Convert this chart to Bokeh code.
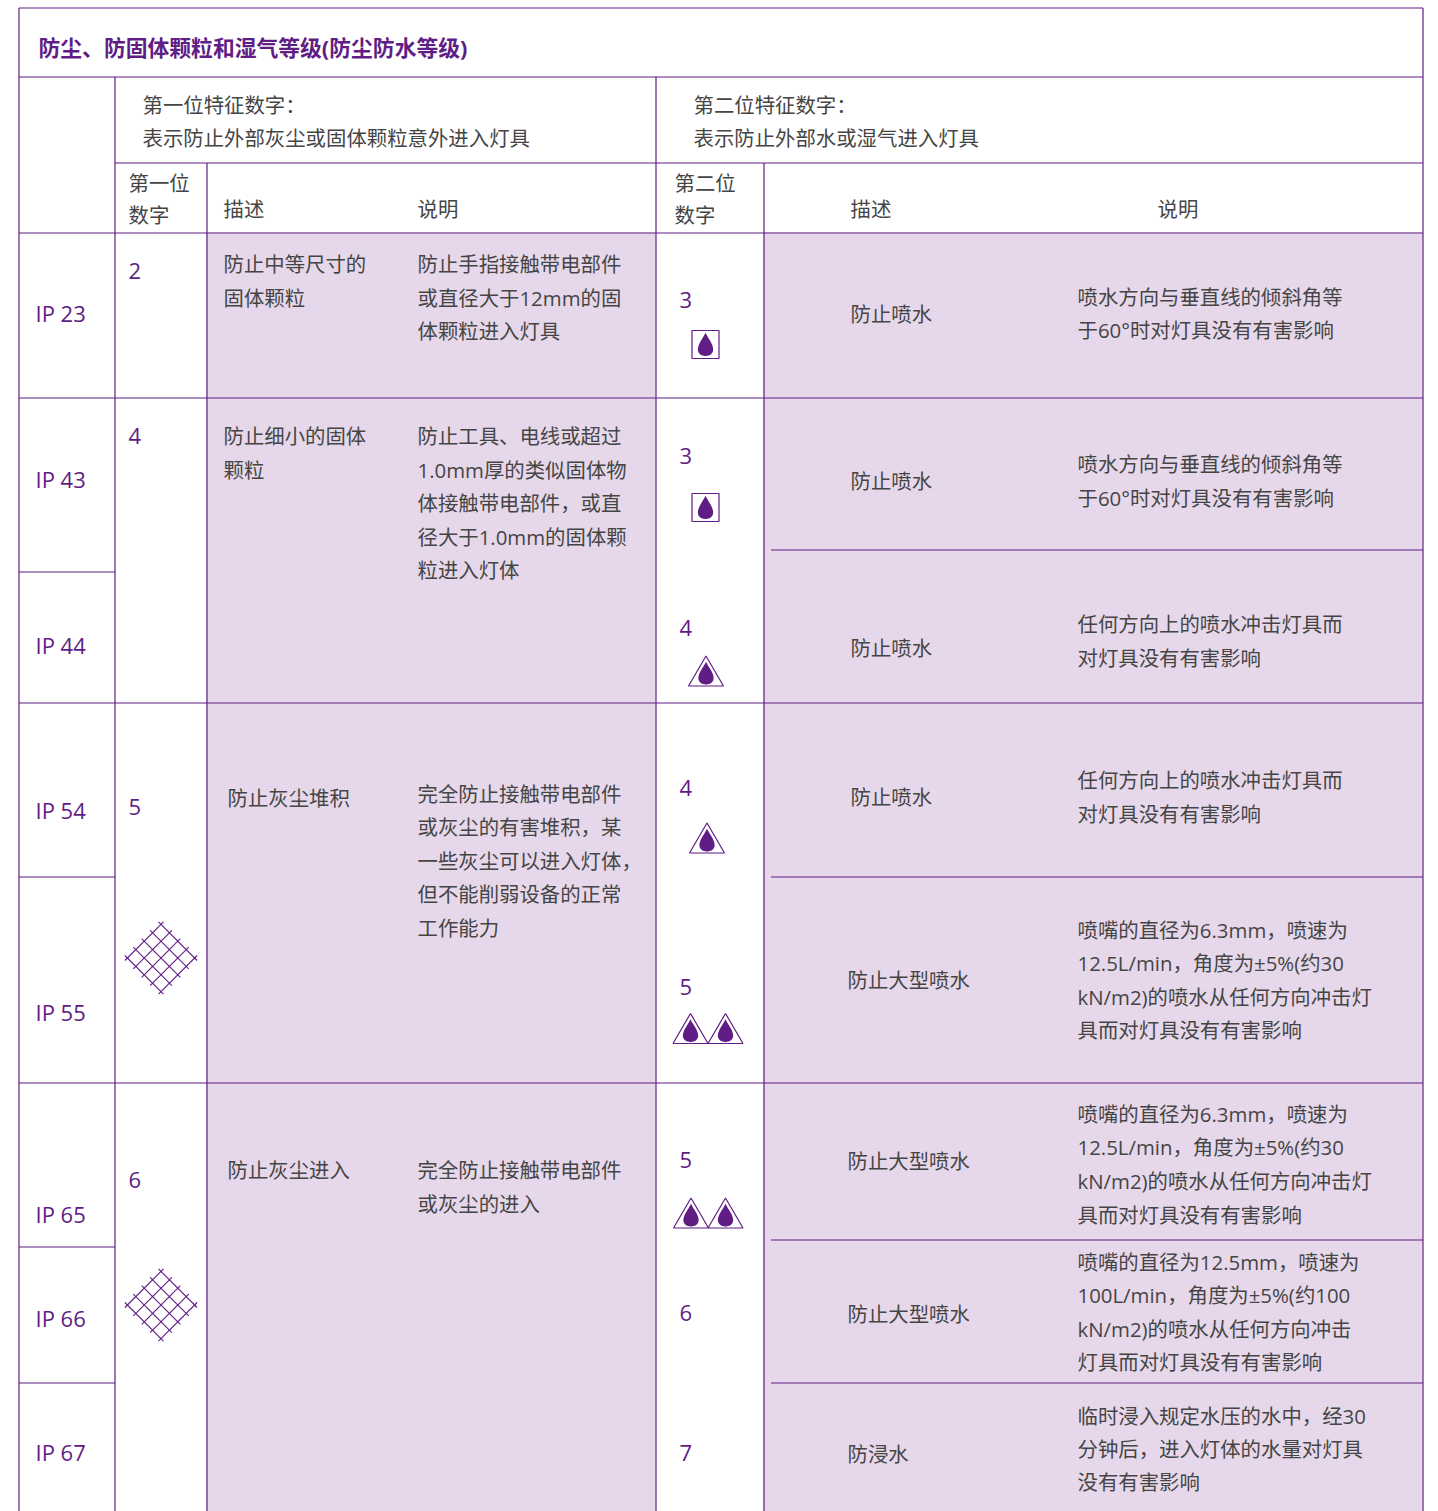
import numpy as np
from bokeh.plotting import figure
from bokeh.models import Range1d, ColumnDataSource
from bokeh.core.properties import value
from bokeh.embed import file_html
from bokeh.resources import INLINE

PURPLE = "#5f1d85"
GRID = "#5f1d85"
FILL = "#e6d8ea"
INK = "#454545"
CJK = "Open Sans, Noto Sans CJK SC"
LAT = "Open Sans"

title = "防尘、防固体颗粒和湿气等级(防尘防水等级)"
head_first = ["第一位特征数字：", "表示防止外部灰尘或固体颗粒意外进入灯具"]
head_second = ["第二位特征数字：", "表示防止外部水或湿气进入灯具"]
col_first = ["第一位", "数字"]
col_second = ["第二位", "数字"]
col_desc = "描述"
col_note = "说明"

ip_codes = ["IP 23", "IP 43", "IP 44", "IP 54", "IP 55", "IP 65", "IP 66", "IP 67"]
first_digits = ["2", "4", "5", "6"]
second_digits = ["3", "3", "4", "4", "5", "5", "6", "7"]

first_desc = [["防止中等尺寸的", "固体颗粒"], ["防止细小的固体", "颗粒"], ["防止灰尘堆积"], ["防止灰尘进入"]]
first_note = [
    ["防止手指接触带电部件", "或直径大于12mm的固", "体颗粒进入灯具"],
    ["防止工具、电线或超过", "1.0mm厚的类似固体物", "体接触带电部件，或直", "径大于1.0mm的固体颗", "粒进入灯体"],
    ["完全防止接触带电部件", "或灰尘的有害堆积，某", "一些灰尘可以进入灯体，", "但不能削弱设备的正常", "工作能力"],
    ["完全防止接触带电部件", "或灰尘的进入"],
]
second_desc = ["防止喷水", "防止喷水", "防止喷水", "防止喷水", "防止大型喷水", "防止大型喷水", "防止大型喷水", "防浸水"]
n_60 = ["喷水方向与垂直线的倾斜角等", "于60°时对灯具没有有害影响"]
n_any = ["任何方向上的喷水冲击灯具而", "对灯具没有有害影响"]
n_63 = ["喷嘴的直径为6.3mm，喷速为", "12.5L/min，角度为±5%(约30", "kN/m2)的喷水从任何方向冲击灯", "具而对灯具没有有害影响"]
n_125 = ["喷嘴的直径为12.5mm，喷速为", "100L/min，角度为±5%(约100", "kN/m2)的喷水从任何方向冲击", "灯具而对灯具没有有害影响"]
n_im = ["临时浸入规定水压的水中，经30", "分钟后，进入灯体的水量对灯具", "没有有害影响"]
second_note = [n_60, n_60, n_any, n_any, n_63, n_63, n_125, n_im]

# layout (page pixels)
X = dict(l=19, a=115, b=207, c=656, d=764, r=1423, s=771)
T, B = 8, 1512
ip_y = [313.5, 479.5, 645.5, 810.5, 1012.5, 1214.5, 1318.5, 1452.5]
fd_y = [271, 436, 807, 1180]
sd_y = [300, 456, 628, 788, 987, 1160, 1313, 1453]
fdesc_pos = [(224, [264, 298]), (224, [436, 470]), (228, [798]), (228, [1170])]
fnote_y = [[264, 298, 331], [436, 470, 503, 537, 570], [794, 827, 861, 894, 928], [1170, 1204]]
sdesc_pos = [(851, 314), (851, 481), (851, 648), (851, 797), (848, 980), (848, 1161), (848, 1314), (848, 1454)]
snote_y = [[297, 330], [464, 498], [624, 658], [780, 814], [930, 963, 997, 1030],
           [1114, 1147, 1181, 1215], [1262, 1295, 1329, 1362], [1416, 1449, 1482]]

p = figure(width=1438, height=1511, x_range=Range1d(1, 1439), y_range=Range1d(1512, 1),
           output_backend="svg", toolbar_location=None, min_border=0,
           outline_line_color=None, background_fill_color="white")
p.axis.visible = False
p.grid.visible = False

# tinted cells
p.quad(left=[X["b"], X["d"]], right=[X["c"], X["r"]], top=[233, 233], bottom=[B, B],
       fill_color=FILL, line_color=None)

# rules
h = [(T, X["l"], X["r"]), (77, X["l"], X["r"]), (163, X["a"], X["r"]), (233, X["l"], X["r"]),
     (398, X["l"], X["r"]), (703, X["l"], X["r"]), (1083, X["l"], X["r"]),
     (572, X["l"], X["a"]), (877, X["l"], X["a"]), (1247, X["l"], X["a"]), (1383, X["l"], X["a"]),
     (550, X["s"], X["r"]), (877, X["s"], X["r"]), (1240, X["s"], X["r"]), (1383, X["s"], X["r"])]
v = [(X["l"], T, B), (X["r"], T, B), (X["a"], 77, B), (X["c"], 77, B), (X["b"], 163, B), (X["d"], 163, B)]
xs = [[a + .5, b + .5] for _, a, b in h] + [[x + .5, x + .5] for x, _, _ in v]
ys = [[y + .5, y + .5] for y, _, _ in h] + [[a + .5, b + .5] for _, a, b in v]
p.multi_line(xs, ys, line_color=GRID, line_width=1.2)

# texts
rows = []
def put(x, y, s, color=INK, font=CJK, size=20.4, style="normal"):
    rows.append(dict(x=x, y=y, t=s, c=color, f=font, s=f"{size}px", st=style))

put(39, 48, title, PURPLE, CJK, 21.8, "bold")
for s, y in zip(head_first, [105, 138]):
    put(143, y, s)
for s, y in zip(head_second, [105, 138]):
    put(694, y, s)
for s, y in zip(col_first, [183, 215]):
    put(129, y, s)
for s, y in zip(col_second, [183, 215]):
    put(675, y, s)
put(224, 209, col_desc); put(418, 209, col_note); put(851, 209, col_desc); put(1158, 209, col_note)
for s, y in zip(ip_codes, ip_y):
    put(36, y, s, PURPLE, LAT, 22)
for s, y in zip(first_digits, fd_y):
    put(129, y, s, PURPLE, LAT, 22)
for s, y in zip(second_digits, sd_y):
    put(680, y, s, PURPLE, LAT, 22)
for lines, (x, ysl) in zip(first_desc, fdesc_pos):
    for s, y in zip(lines, ysl):
        put(x, y, s)
for lines, ysl in zip(first_note, fnote_y):
    for s, y in zip(lines, ysl):
        put(418, y, s)
for s, (x, y) in zip(second_desc, sdesc_pos):
    put(x, y, s)
for lines, ysl in zip(second_note, snote_y):
    for s, y in zip(lines, ysl):
        put(1078, y, s)

keys = sorted({(r["f"], r["s"], r["st"]) for r in rows})
for font, size, style in keys:
    g = [r for r in rows if (r["f"], r["s"], r["st"]) == (font, size, style)]
    src = ColumnDataSource(dict(x=[r["x"] for r in g], y=[r["y"] for r in g],
                                t=[r["t"] for r in g], c=[r["c"] for r in g]))
    p.text("x", "y", text="t", source=src, text_color="c", text_font=value(font),
           text_font_size=value(size), text_font_style=style,
           text_align="left", text_baseline="middle")

# icons
def drop(cx, top, bottom, half):
    t = np.linspace(0, 2 * np.pi, 60)
    x = cx + half * 1.3 * np.sin(t) * np.sin(t / 2) ** 1.6
    y = top + (bottom - top) * (1 - np.cos(t)) / 2
    p.patch(x, y, fill_color=PURPLE, line_color=None)

def boxed(cx, cy):
    p.quad(left=[cx - 13.5], right=[cx + 13.5], top=[cy - 14], bottom=[cy + 14],
           fill_color="white", line_color=PURPLE, line_width=1.2)
    drop(cx, cy - 12, cy + 11.5, 8.5)

def tri(cx, apex, base):
    p.patch([cx - 17.5, cx, cx + 17.5], [base, apex, base], fill_color="white",
            line_color=PURPLE, line_width=1.2)
    drop(cx, apex + 5.5, base - 1.5, 8.5)

boxed(706, 345); boxed(706, 508)
tri(706.5, 656.5, 686.5); tri(707.5, 823.5, 853.5)
tri(691, 1014, 1044); tri(726, 1014, 1044)
tri(691.5, 1198.5, 1228.5); tri(726, 1198.5, 1228.5)

def mesh(cx, cy):
    step, ext = 8.4, 2.5
    xs, ys = [], []
    for k in range(-2, 3):
        a = -2 * step - ext
        b = 2 * step + ext
        xs.append([cx + k * step + a, cx + k * step + b]); ys.append([cy - k * step + a, cy - k * step + b])
        xs.append([cx + k * step + a, cx + k * step + b]); ys.append([cy + k * step - a, cy + k * step - b])
    p.multi_line(xs, ys, line_color=PURPLE, line_width=1.1)

mesh(161.5, 958.5); mesh(161.5, 1305.5)

open("out.html", "w").write(file_html(p, INLINE))
